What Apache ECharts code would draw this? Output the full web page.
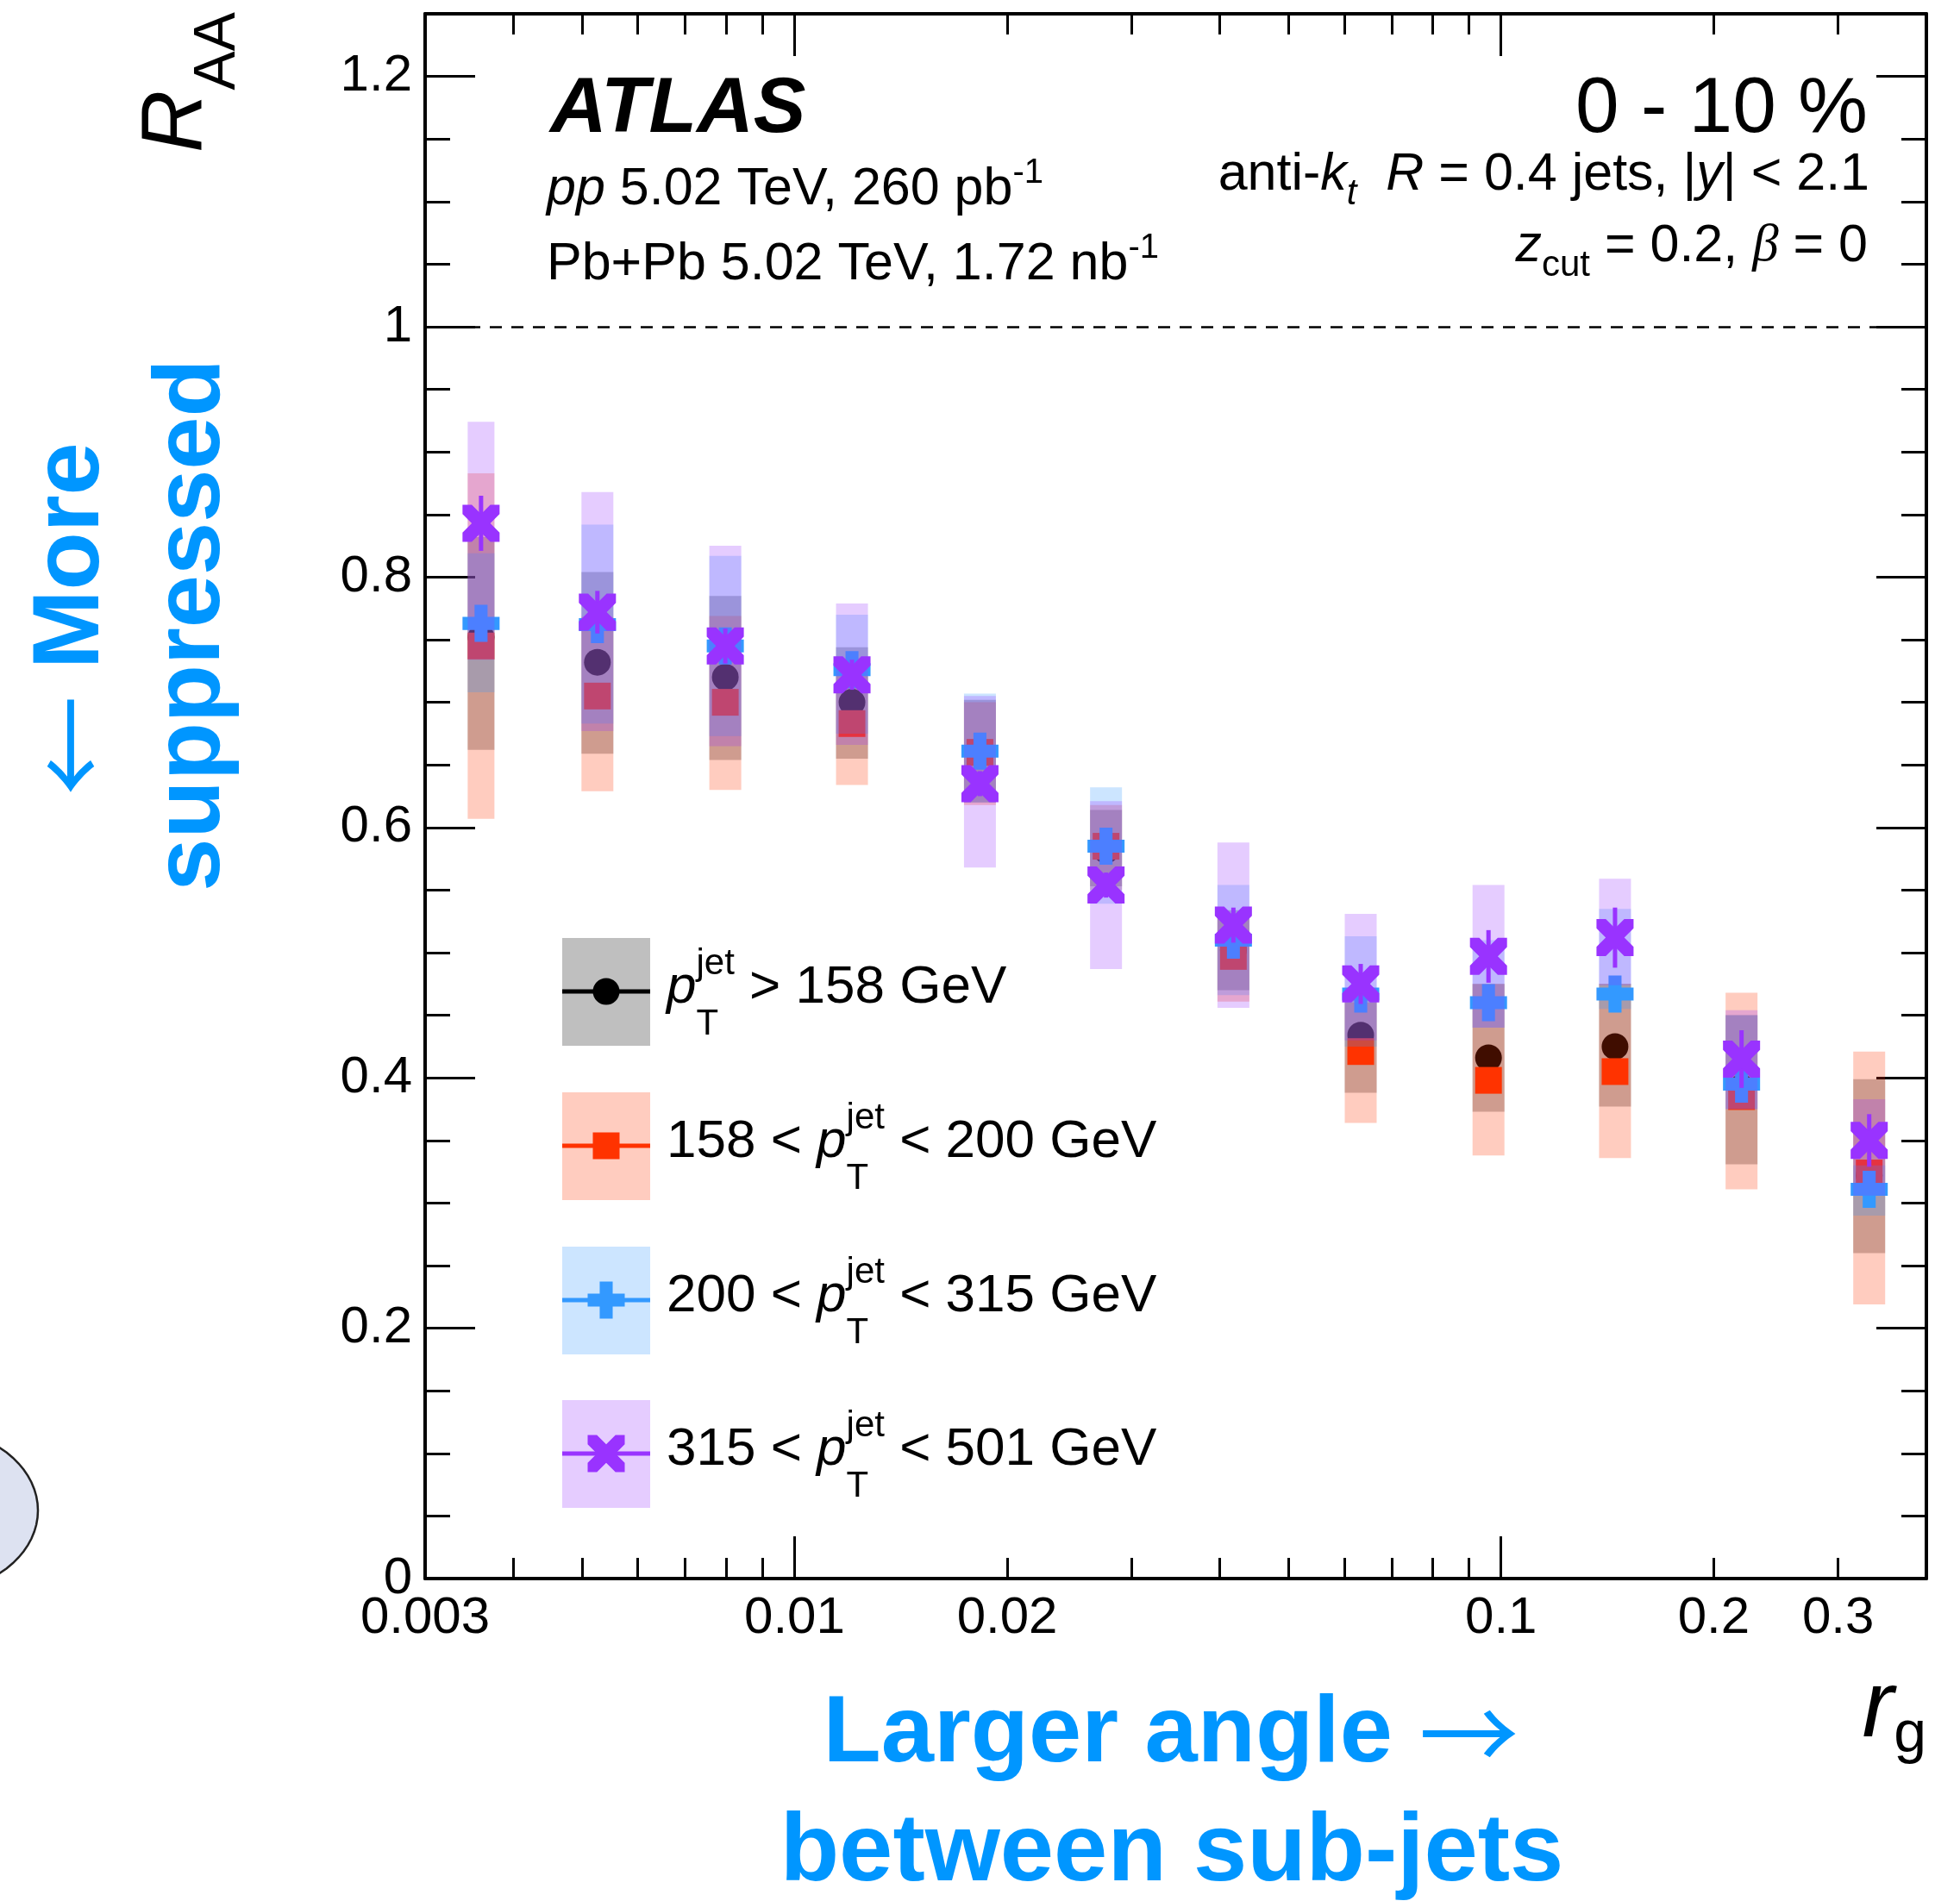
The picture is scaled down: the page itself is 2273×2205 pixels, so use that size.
<!DOCTYPE html>
<html>
<head>
<meta charset="utf-8">
<script src="https://cdn.jsdelivr.net/npm/echarts@6/dist/echarts.min.js"></script>
<style>
html, body { margin: 0; padding: 0; background: #fff; }
#main { width: 2273px; height: 2205px; }
</style>
</head>
<body>
<div id="main"></div>
<script>
// r_g bin centres
var rg = [0.0036, 0.00526, 0.00798, 0.01206, 0.0183, 0.0276, 0.0418, 0.0633, 0.096, 0.145, 0.219, 0.332];

// pT > 158 GeV (black)
var allVal  = [0.752, 0.732, 0.720, 0.700, 0.660, 0.582, 0.502, 0.434, 0.416, 0.425, 0.392, 0.322];
var allLo   = [0.662, 0.659, 0.654, 0.655, 0.620, 0.553, 0.470, 0.388, 0.373, 0.377, 0.331, 0.260];
var allHi   = [0.832, 0.804, 0.785, 0.744, 0.702, 0.614, 0.534, 0.470, 0.475, 0.475, 0.450, 0.399];
var allStat = [0.008, 0.008, 0.008, 0.008, 0.008, 0.008, 0.008, 0.008, 0.008, 0.008, 0.008, 0.008];

// 158 < pT < 200 GeV (red)
var lowVal  = [0.745, 0.705, 0.700, 0.683, 0.660, 0.585, 0.497, 0.421, 0.398, 0.405, 0.385, 0.324];
var lowLo   = [0.607, 0.629, 0.630, 0.634, 0.618, 0.550, 0.461, 0.364, 0.338, 0.336, 0.311, 0.219];
var lowHi   = [0.883, 0.768, 0.769, 0.735, 0.700, 0.618, 0.530, 0.460, 0.475, 0.475, 0.468, 0.421];
var lowStat = [0.008, 0.008, 0.008, 0.008, 0.008, 0.008, 0.008, 0.008, 0.008, 0.008, 0.008, 0.008];

// 200 < pT < 315 GeV (blue)
var midVal  = [0.763, 0.762, 0.745, 0.726, 0.661, 0.585, 0.510, 0.467, 0.460, 0.467, 0.395, 0.311];
var midLo   = [0.708, 0.683, 0.673, 0.675, 0.620, 0.539, 0.466, 0.425, 0.440, 0.455, 0.375, 0.290];
var midHi   = [0.819, 0.842, 0.817, 0.770, 0.707, 0.632, 0.554, 0.513, 0.510, 0.535, 0.450, 0.330];
var midStat = [0.010, 0.010, 0.010, 0.010, 0.010, 0.010, 0.010, 0.010, 0.010, 0.010, 0.010, 0.010];

// 315 < pT < 501 GeV (purple)
var highVal  = [0.843, 0.772, 0.745, 0.722, 0.635, 0.554, 0.522, 0.475, 0.497, 0.512, 0.415, 0.350];
var highLo   = [0.734, 0.677, 0.665, 0.666, 0.568, 0.487, 0.456, 0.430, 0.440, 0.474, 0.375, 0.306];
var highHi   = [0.924, 0.868, 0.825, 0.779, 0.705, 0.621, 0.588, 0.531, 0.554, 0.559, 0.454, 0.383];
var highStat = [0.022, 0.017, 0.014, 0.012, 0.010, 0.010, 0.014, 0.016, 0.021, 0.024, 0.023, 0.021];

// ticks
var xMajor  = [0.01, 0.1];
var xMinor  = [0.004, 0.005, 0.006, 0.007, 0.008, 0.009, 0.02, 0.03, 0.04, 0.05, 0.06, 0.07, 0.08, 0.09, 0.2, 0.3];
var xLabels = [0.003, 0.01, 0.02, 0.1, 0.2, 0.3];
var yMajor  = [0, 0.2, 0.4, 0.6, 0.8, 1, 1.2];
var yMinor  = [0.05, 0.1, 0.15, 0.25, 0.3, 0.35, 0.45, 0.5, 0.55, 0.65, 0.7, 0.75, 0.85, 0.9, 0.95, 1.05, 1.1, 1.15];

var FONT = 'Liberation Sans';
var ARROWFONT = 'Noto Sans CJK SC';
var K = 0.347; // canvas 'middle' to alphabetic baseline, in em
var LMIN = Math.log10(0.003), LMAX = Math.log10(0.4);

var plusPts = [[-0.35,-1],[0.35,-1],[0.35,-0.35],[1,-0.35],[1,0.35],[0.35,0.35],[0.35,1],[-0.35,1],[-0.35,0.35],[-1,0.35],[-1,-0.35],[-0.35,-0.35]];
var crossPts = [[0,-0.5],[0.5,-1],[1,-1],[1,-0.5],[0.5,0],[1,0.5],[1,1],[0.5,1],[0,0.5],[-0.5,1],[-1,1],[-1,0.5],[-0.5,0],[-1,-0.5],[-1,-1],[-0.5,-1]];
function toPath(pts) {
    return 'path://M' + pts.map(function (p) { return (p[0] * 10) + ',' + (p[1] * 10); }).join('L') + 'Z';
}

var chart = echarts.init(document.getElementById('main'), null, {renderer: 'canvas'});

// ---- series: band, stat error, marker for each pT bin
var series = [];
function addGroup(val, lo, hi, stat, color, band, symbol, size, z0) {
    series.push({
        type: 'custom', xAxisIndex: 0, yAxisIndex: 0, z: z0, silent: true,
        data: rg.map(function (x, i) { return [x, lo[i], hi[i]]; }),
        renderItem: function (params, api) {
            var a = api.coord([api.value(0), api.value(2)]);
            var b = api.coord([api.value(0), api.value(1)]);
            var w = params.dataIndex === 0 ? 31 : 37;
            return {type: 'rect', shape: {x: a[0] - w / 2, y: a[1], width: w, height: b[1] - a[1]},
                    style: {fill: band}};
        }
    });
    series.push({
        type: 'custom', xAxisIndex: 0, yAxisIndex: 0, z: z0 + 1, silent: true,
        data: rg.map(function (x, i) { return [x, val[i] - stat[i], val[i] + stat[i]]; }),
        renderItem: function (params, api) {
            var a = api.coord([api.value(0), api.value(2)]);
            var b = api.coord([api.value(0), api.value(1)]);
            return {type: 'line', shape: {x1: a[0], y1: a[1], x2: b[0], y2: b[1]},
                    style: {stroke: color, lineWidth: 5}};
        }
    });
    series.push({
        type: 'scatter', xAxisIndex: 0, yAxisIndex: 0, z: z0 + 2, silent: true,
        symbol: symbol, symbolSize: size,
        itemStyle: {color: color, opacity: 1},
        data: rg.map(function (x, i) { return [x, val[i]]; })
    });
}
addGroup(allVal, allLo, allHi, allStat, '#000000', 'rgba(0,0,0,0.25)', 'circle', 31, 2);
addGroup(lowVal, lowLo, lowHi, lowStat, '#ff3300', 'rgba(255,51,0,0.25)', 'rect', 31, 5);
addGroup(midVal, midLo, midHi, midStat, '#3399ff', 'rgba(51,153,255,0.25)', toPath(plusPts), 43, 8);
addGroup(highVal, highLo, highHi, highStat, '#9933ff', 'rgba(153,51,255,0.25)', toPath(crossPts), 43, 11);

// dashed line at R_AA = 1
series[2].markLine = {
    silent: true, symbol: ['none', 'none'], label: {show: false},
    lineStyle: {color: '#000', width: 2.5, type: [14, 11]},
    data: [{yAxis: 1}]
};

// ---- text helpers
var mctx = document.createElement('canvas').getContext('2d');
function fontStr(p) {
    return (p.it ? 'italic ' : '') + (p.b ? 'bold ' : '') + p.size + 'px "' + (p.fam || FONT) + '"';
}
function widthOf(p) { mctx.font = fontStr(p); return mctx.measureText(p.t).width; }

function textLine(x0, y0, parts, opt) {
    opt = opt || {};
    var base = opt.size || 62, color = opt.color || '#000', rot = opt.rot || 0;
    var items = [], total = 0;
    parts.forEach(function (p) {
        if (p.stack) {
            var ss = Math.round(base * 0.68);
            var a = {t: p.stack[0], size: ss}, b = {t: p.stack[1], size: ss};
            items.push({p: a, s: total, dy: -0.55 * base});
            items.push({p: b, s: total, dy: 0.58 * base});
            total += Math.max(widthOf(a), widthOf(b));
        } else {
            var q = {t: p.t, size: p.size || base, it: p.it, b: p.b !== undefined ? p.b : opt.b, fam: p.fam};
            items.push({p: q, s: total, dy: p.dy || 0, k: p.k});
            total += widthOf(q);
        }
    });
    var off = opt.align === 'right' ? -total : opt.align === 'center' ? -total / 2 : 0;
    return items.map(function (it) {
        var along = off + it.s, down = it.dy - (it.k !== undefined ? it.k : K) * it.p.size;
        return {
            type: 'text', silent: true, z: 100,
            x: rot ? x0 + down : x0 + along,
            y: rot ? y0 - along : y0 + down,
            rotation: rot,
            style: {
                text: it.p.t, fill: color, align: 'left', verticalAlign: 'middle',
                fontSize: it.p.size, fontFamily: it.p.fam || FONT,
                fontStyle: it.p.it ? 'italic' : 'normal', fontWeight: it.p.b ? 'bold' : 'normal'
            }
        };
    });
}

var g = [];
function add(arr) { g = g.concat(arr); }

// header texts
add(textLine(638, 159, [{t: 'ATLAS', it: true, b: true}], {size: 91}));
add(textLine(634, 241, [{t: 'pp', it: true}, {t: ' 5.02 TeV, 260 pb'}, {t: '-1', size: 40, dy: -26}], {size: 61}));
add(textLine(634, 328, [{t: 'Pb+Pb 5.02 TeV, 1.72 nb'}, {t: '-1', size: 40, dy: -26}], {size: 61}));
add(textLine(2166, 159, [{t: '0 - 10 %'}], {size: 91, align: 'right'}));
add(textLine(2168, 224, [{t: 'anti-'}, {t: 'k', it: true}, {t: 't', it: true, size: 42, dy: 16}, {t: '  '},
    {t: 'R', it: true}, {t: ' = 0.4 jets, |'}, {t: 'y', it: true}, {t: '| < 2.1'}], {size: 61, align: 'right'}));
add(textLine(2166, 307, [{t: 'z', it: true}, {t: 'cut', size: 42, dy: 16}, {t: ' = 0.2, '},
    {t: '\u03b2', it: true, fam: 'Liberation Serif'}, {t: ' = 0'}], {size: 61, align: 'right'}));

// axis titles
add(textLine(241, 177, [{t: 'R', it: true, size: 100}, {t: 'AA', size: 68, dy: 36}], {rot: Math.PI / 2}));
add(textLine(2234, 2022, [{t: 'r', it: true, size: 110}, {t: 'g', size: 68, dy: 15}], {align: 'right'}));

// blue annotations
var ANN = '#0096ff';
add(textLine(1358, 2051, [{t: 'Larger angle '}, {t: '\u2192', fam: ARROWFONT, b: false, size: 116}],
    {size: 110, b: true, color: ANN, align: 'center'}));
add(textLine(1359, 2189, [{t: 'between sub-jets'}], {size: 112, b: true, color: ANN, align: 'center'}));
add(textLine(122, 718, [{t: '\u2190', fam: ARROWFONT, b: false, size: 116}, {t: ' More'}],
    {size: 110, b: true, color: ANN, align: 'center', rot: Math.PI / 2}));
add(textLine(262, 725, [{t: 'suppressed'}], {size: 110, b: true, color: ANN, align: 'center', rot: Math.PI / 2}));

// legend
function polyAt(pts, cx, cy, half) {
    return pts.map(function (p) { return [cx + p[0] * half, cy + p[1] * half]; });
}
var legendRows = [
    {cy: 1150, color: '#000000', band: 'rgba(0,0,0,0.25)', mk: 'circle',
     parts: [{t: 'p', it: true}, {stack: ['jet', 'T']}, {t: ' > 158 GeV'}]},
    {cy: 1329, color: '#ff3300', band: 'rgba(255,51,0,0.25)', mk: 'rect',
     parts: [{t: '158 < '}, {t: 'p', it: true}, {stack: ['jet', 'T']}, {t: ' < 200 GeV'}]},
    {cy: 1508, color: '#3399ff', band: 'rgba(51,153,255,0.25)', mk: 'plus',
     parts: [{t: '200 < '}, {t: 'p', it: true}, {stack: ['jet', 'T']}, {t: ' < 315 GeV'}]},
    {cy: 1686, color: '#9933ff', band: 'rgba(153,51,255,0.25)', mk: 'cross',
     parts: [{t: '315 < '}, {t: 'p', it: true}, {stack: ['jet', 'T']}, {t: ' < 501 GeV'}]}
];
legendRows.forEach(function (r) {
    g.push({type: 'rect', silent: true, z: 90, shape: {x: 652, y: r.cy - 62, width: 102, height: 125}, style: {fill: r.band}});
    g.push({type: 'line', silent: true, z: 91, shape: {x1: 652, y1: r.cy, x2: 754, y2: r.cy}, style: {stroke: r.color, lineWidth: 5}});
    var m;
    if (r.mk === 'circle') m = {type: 'circle', shape: {cx: 703, cy: r.cy, r: 15.5}};
    else if (r.mk === 'rect') m = {type: 'rect', shape: {x: 687.5, y: r.cy - 15.5, width: 31, height: 31}};
    else if (r.mk === 'plus') m = {type: 'polygon', shape: {points: polyAt(plusPts, 703, r.cy, 21.5)}};
    else m = {type: 'polygon', shape: {points: polyAt(crossPts, 703, r.cy, 21.5)}};
    m.silent = true; m.z = 92; m.style = {fill: r.color};
    g.push(m);
    add(textLine(773, r.cy + 17, r.parts, {size: 62}));
});

// partial ellipse at the left edge
var ell = [];
for (var i = 0; i < 72; i++) {
    var t = i / 72 * Math.PI * 2;
    ell.push([-80 + 124 * Math.cos(t), 1752 + 95 * Math.sin(t)]);
}
g.push({type: 'polygon', silent: true, z: 1, shape: {points: ell}, style: {fill: '#dde2f1', stroke: '#222', lineWidth: 2.5}});

// ---- axes
var tickLine = {color: '#000', width: 3};
function xTickAxis(pos, vals, len, labels, line) {
    return {
        type: 'value', min: LMIN, max: LMAX, position: pos, gridIndex: 0,
        axisLine: {show: !!line, onZero: false, lineStyle: {color: '#000', width: 4}},
        axisTick: {show: true, inside: true, length: len, lineStyle: tickLine, customValues: vals.map(Math.log10)},
        axisLabel: labels ? {
            show: true, customValues: labels.map(Math.log10), margin: 16,
            fontSize: 60, fontFamily: FONT, color: '#000',
            formatter: function (v) { return String(+Math.pow(10, v).toPrecision(1)); }
        } : {show: false},
        splitLine: {show: false}, minorTick: {show: false}, minorSplitLine: {show: false}
    };
}
function yTickAxis(pos, vals, len, labels, line) {
    return {
        type: 'value', min: 0, max: 1.25, position: pos, gridIndex: 0,
        axisLine: {show: !!line, onZero: false, lineStyle: {color: '#000', width: 4}},
        axisTick: {show: true, inside: true, length: len, lineStyle: tickLine, customValues: vals},
        axisLabel: labels ? {
            show: true, customValues: labels, margin: 15,
            fontSize: 60, fontFamily: FONT, color: '#000',
            formatter: function (v) { return String(Math.round(v * 10) / 10); }
        } : {show: false},
        splitLine: {show: false}, minorTick: {show: false}, minorSplitLine: {show: false}
    };
}

chart.setOption({
    animation: false,
    backgroundColor: '#fff',
    textStyle: {fontFamily: FONT},
    grid: {left: 493, right: 39, top: 16, bottom: 374, containLabel: false, outerBoundsMode: 'none'},
    xAxis: [
        {
            type: 'log', logBase: 10, min: 0.003, max: 0.4, position: 'bottom', gridIndex: 0,
            axisLine: {show: true, onZero: false, lineStyle: {color: '#000', width: 4}},
            axisTick: {show: false}, axisLabel: {show: false},
            splitLine: {show: false}, minorTick: {show: false}, minorSplitLine: {show: false}
        },
        xTickAxis('bottom', xMajor, 49, xLabels, false),
        xTickAxis('bottom', xMinor, 24, null, false),
        xTickAxis('top', xMajor, 49, null, true),
        xTickAxis('top', xMinor, 24, null, false)
    ],
    yAxis: [
        yTickAxis('left', yMajor, 58, yMajor, true),
        yTickAxis('left', yMinor, 29, null, false),
        yTickAxis('right', yMajor, 58, null, true),
        yTickAxis('right', yMinor, 29, null, false)
    ],
    series: series,
    graphic: {elements: g}
});
</script>
</body>
</html>
